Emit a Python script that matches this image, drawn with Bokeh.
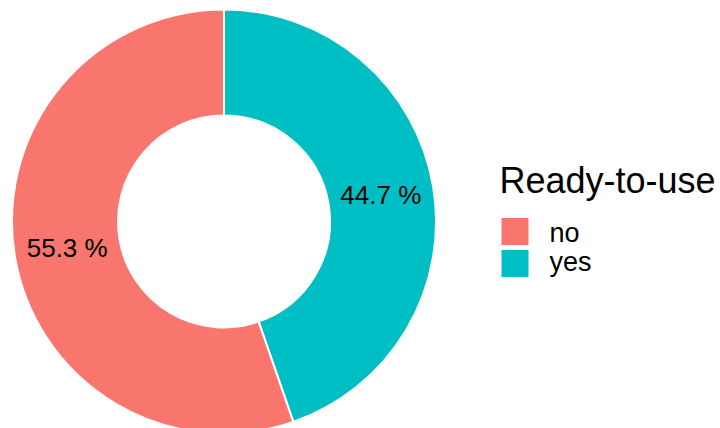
import math
from bokeh.plotting import figure
from bokeh.models import Range1d, ColumnDataSource
from bokeh.core.properties import value
from bokeh.embed import file_html
from bokeh.resources import INLINE

# data
categories = ["no", "yes"]
percent = [55.3, 44.7]
colors = ["#F8766D", "#00BFC4"]
legend_title = "Ready-to-use"

W, H = 720, 428
p = figure(width=W, height=H, output_backend="svg", toolbar_location=None,
           x_range=Range1d(0, W), y_range=Range1d(0, H), min_border=0)
p.axis.visible = False
p.grid.visible = False
p.outline_line_color = None
p.background_fill_color = "white"
p.border_fill_color = "white"

cx, cy = 223.5, H - 221
r_out, r_in = 212, 106

# slices drawn clockwise from 12 o'clock: "yes" first, then "no"
order = ["yes", "no"]
starts, ends, cols, lx, ly, labels = [], [], [], [], [], []
a = math.pi / 2
total = sum(percent)
for c in order:
    i = categories.index(c)
    span = 2 * math.pi * percent[i] / total
    starts.append(a)
    ends.append(a - span)
    mid = a - span / 2
    rm = (r_out + r_in) / 2
    lx.append(cx + rm * math.cos(mid))
    ly.append(cy + rm * math.sin(mid))
    labels.append(f"{percent[i]:.1f} %")
    cols.append(colors[i])
    a -= span

src = ColumnDataSource(dict(start=starts, end=ends, color=cols, lx=lx, ly=ly, label=labels))
p.annular_wedge(x=cx, y=cy, inner_radius=r_in, outer_radius=r_out,
                start_angle="start", end_angle="end", direction="clock",
                fill_color="color", line_color="white", line_width=2, source=src)
p.text(x="lx", y="ly", text="label", source=src, text_align="center",
       text_baseline="middle", text_font=value("Liberation Sans"),
       text_font_size="26px", text_color="black")

# legend
p.text(x=[499], y=[H - 180], text=[legend_title], text_align="left",
       text_baseline="middle", text_font=value("Liberation Sans"),
       text_font_size="36px", text_color="black")
key_y = [H - 231, H - 263]
p.rect(x=[514.5, 514.5], y=key_y, width=28, height=28,
       fill_color=colors, line_color="white", line_width=1)
p.text(x=[549, 549], y=[H - 232, H - 261.5], text=categories, text_align="left",
       text_baseline="middle", text_font=value("Liberation Sans"),
       text_font_size="27px", text_color="black")

open("out.html", "w").write(file_html(p, INLINE))
